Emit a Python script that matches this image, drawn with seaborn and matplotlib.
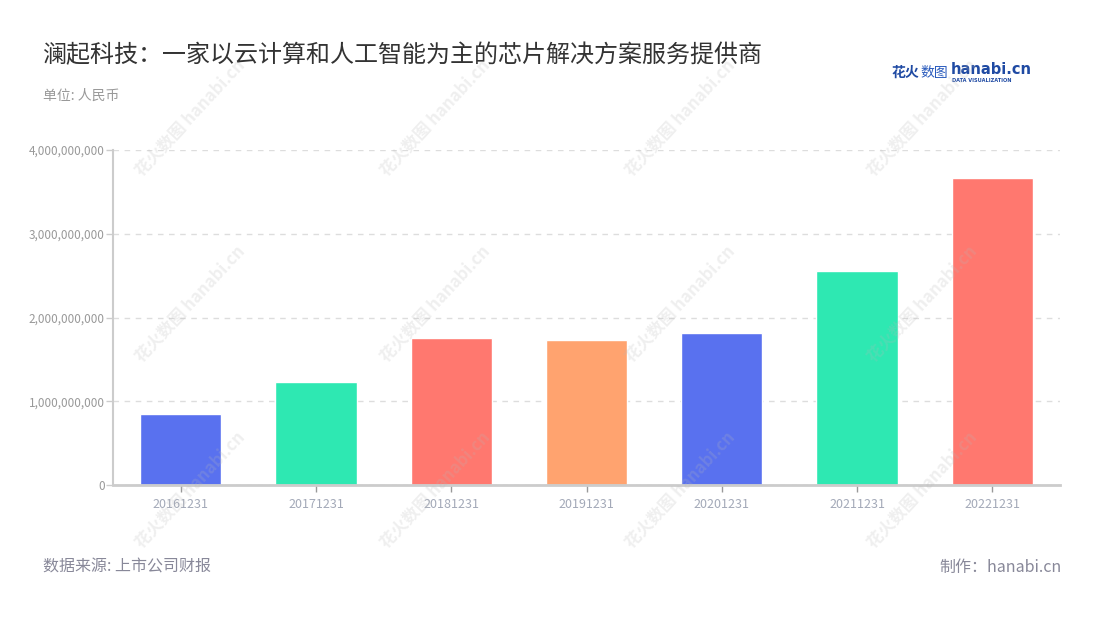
import pandas as pd
import matplotlib
matplotlib.use('Agg')
import matplotlib.pyplot as plt
import seaborn as sns
from matplotlib.ticker import FuncFormatter

# data
dates = ['20161231', '20171231', '20181231', '20191231', '20201231', '20211231', '20221231']
revenue = [845e6, 1226e6, 1754e6, 1734e6, 1818e6, 2556e6, 3663e6]
bar_colors = ['#5971EF', '#2EE8B2', '#FF786F', '#FFA36F', '#5971EF', '#2EE8B2', '#FF786F']

title = '澜起科技：一家以云计算和人工智能为主的芯片解决方案服务提供商'
unit = '单位: 人民币'
source = '数据来源: 上市公司财报'
maker = '制作：hanabi.cn'

df = pd.DataFrame({'date': dates, 'value': revenue})

sns.set_style('white')
plt.rcParams['font.family'] = ['Noto Sans CJK SC', 'DejaVu Sans']

fig = plt.figure(figsize=(11, 6.2), dpi=100)
ax = fig.add_axes([113/1100, 1-485/620, 947/1100, 335/620])

sns.barplot(data=df, x='date', y='value', hue='date', palette=bar_colors,
            legend=False, width=0.6, saturation=1, ax=ax, zorder=3)

ax.set_ylim(0, 4e9)
ax.set_xlim(-0.5, len(dates) - 0.5)
ax.set_yticks([0, 1e9, 2e9, 3e9, 4e9])
ax.yaxis.set_major_formatter(FuncFormatter(lambda v, p: f'{int(v):,}'))
ax.set_xlabel('')
ax.set_ylabel('')

ax.grid(axis='y', color='#dddddd', linestyle=(0, (4, 4)), linewidth=1, zorder=0)
ax.set_axisbelow(True)
for s in ['top', 'right']:
    ax.spines[s].set_visible(False)
ax.spines['left'].set_color('#cccccc')
ax.spines['left'].set_linewidth(1.5)
ax.spines['bottom'].set_color('#cccccc')
ax.spines['bottom'].set_linewidth(2)
ax.spines['bottom'].set_zorder(4)

ax.tick_params(axis='y', length=5, width=1, color='#cccccc', labelcolor='#999999',
               labelsize=8.5, pad=1, left=True)
ax.tick_params(axis='x', length=5, width=1, color='#999999', labelcolor='#a3a9b8',
               labelsize=9, pad=4, bottom=True)

# header and footer
fig.text(43/1100, 1-55/620, title, fontsize=17.3, color='#333333', va='center', ha='left')
fig.text(43/1100, 1-96/620, unit, fontsize=10, color='#999999', va='center', ha='left')
fig.text(43/1100, 1-567/620, source, fontsize=11.5, color='#888899', va='center', ha='left')
fig.text(1062/1100, 1-567/620, maker, fontsize=11.5, color='#888899', va='center', ha='right')

# logo
fig.text(892/1100, 1-73/620, '花火', fontsize=10, color='#1f4aa3', fontweight='bold',
         va='center', ha='left')
fig.text(920/1100, 1-73/620, '数图', fontsize=10, color='#2a5bbd',
         va='center', ha='left')
fig.text(951/1100, 1-70/620, 'hanabi.cn', fontsize=10.5, color='#1f4aa3', fontweight='bold',
         va='center', ha='left', family=['DejaVu Sans'])
fig.text(952/1100, 1-80/620, 'DATA VISUALIZATION', fontsize=3.6, color='#1f4aa3',
         fontweight='bold', va='center', ha='left', family=['DejaVu Sans'])

# faint watermarks
for wx in [190, 435, 680, 922]:
    for wy in [118, 304, 490]:
        fig.text(wx/1100, 1-wy/620, '花火数图 hanabi.cn', fontsize=12, color='#b8b8b8',
                 alpha=0.22, rotation=47, ha='center', va='center', fontweight='bold',
                 zorder=10)

fig.savefig('out.png', dpi=100, facecolor='white')
